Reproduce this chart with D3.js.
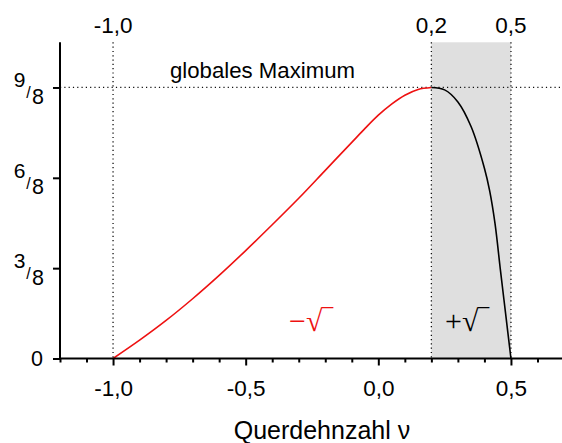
<!DOCTYPE html>
<html><head><meta charset="utf-8">
<script src="https://cdn.jsdelivr.net/npm/d3@7"></script>
<style>html,body{margin:0;padding:0;background:#fff;overflow:hidden}</style>
</head><body>
<svg id="c" width="562" height="443"></svg>
<script>
// ---- data ----
const redNu  = [-1.0, -0.9, -0.8, -0.7, -0.6, -0.5, -0.4, -0.3, -0.2, -0.1, -0.05, 0.0, 0.05, 0.1, 0.15, 0.2];
const redVal = [0, 0.076, 0.158, 0.248, 0.345, 0.448, 0.555, 0.665, 0.781, 0.897, 0.955, 1.010, 1.056, 1.093, 1.117, 1.125];
const blackNu  = [0.2, 0.25, 0.3, 0.35, 0.4, 0.42, 0.44, 0.46, 0.48, 0.5];
const blackVal = [1.125, 1.115, 1.065, 0.962, 0.79, 0.695, 0.56, 0.37, 0.185, 0];
const xMajor = [-1.0, -0.5, 0.0, 0.5];
const xMajorLabels = ["-1,0", "-0,5", "0,0", "0,5"];
const xMinor = [-1.2, -1.1, -0.9, -0.8, -0.7, -0.6, -0.4, -0.3, -0.2, -0.1, 0.1, 0.2, 0.3, 0.4, 0.6];
const topMarks = [-1.0, 0.2, 0.5];
const topLabels = ["-1,0", "0,2", "0,5"];
const yTicks = [0, 3/8, 6/8, 9/8];
const yNum = ["0", "3", "6", "9"];
const yDen = ["", "8", "8", "8"];
const maxVal = 9/8;
const band = [0.2, 0.5];

// ---- scales ----
const svg = d3.select("#c");
const x = d3.scaleLinear().domain([-1.2, 0.7]).range([60, 564]);
const y = d3.scaleLinear().domain([0, 1.3125]).range([358.5, 42.3]);
const font = "Liberation Sans, Arial, sans-serif";
const RED = "#ee1111";

// grey band
svg.append("rect")
  .attr("x", x(band[0])).attr("y", y(1.3125))
  .attr("width", x(band[1]) - x(band[0])).attr("height", y(0) - y(1.3125))
  .attr("fill", "#dfdfdf");

// dotted lines
const dot = "1.2 3.1";
svg.append("line").attr("x1", 60).attr("x2", 562).attr("y1", y(maxVal)).attr("y2", y(maxVal))
  .attr("stroke", "#111").attr("stroke-width", 1.3).attr("stroke-dasharray", dot);
topMarks.forEach(v => {
  svg.append("line").attr("x1", x(v)).attr("x2", x(v)).attr("y1", y(1.3125)).attr("y2", y(0))
    .attr("stroke", "#111").attr("stroke-width", 1.3).attr("stroke-dasharray", dot);
});

// curves
const line = d3.line().x(d => x(d[0])).y(d => y(d[1])).curve(d3.curveCatmullRom.alpha(0.5));
svg.append("path").datum(redNu.map((n, i) => [n, redVal[i]]))
  .attr("d", line).attr("fill", "none").attr("stroke", RED).attr("stroke-width", 1.6);
svg.append("path").datum(blackNu.map((n, i) => [n, blackVal[i]]))
  .attr("d", line).attr("fill", "none").attr("stroke", "#000").attr("stroke-width", 1.6);

// x axis
const gx = svg.append("g").attr("transform", `translate(0,${y(0)})`);
gx.call(d3.axisBottom(x).tickValues(xMinor).tickSize(4).tickFormat(""));
gx.selectAll(".tick line").attr("stroke-width", 2);
const gx2 = svg.append("g").attr("transform", `translate(0,${y(0)})`);
gx2.call(d3.axisBottom(x).tickValues(xMajor).tickSize(7).tickPadding(15)
  .tickFormat((d, i) => xMajorLabels[i]));
gx2.selectAll(".tick line").attr("stroke-width", 2);
gx2.selectAll(".tick text").attr("font-family", font).attr("font-size", 22.5).attr("fill", "#000");
svg.selectAll(".domain").remove();
svg.append("line").attr("x1", 59).attr("x2", 562).attr("y1", y(0)).attr("y2", y(0))
  .attr("stroke", "#000").attr("stroke-width", 2);

// y axis
const gy = svg.append("g").attr("transform", "translate(60,0)");
gy.call(d3.axisLeft(y).tickValues(yTicks).tickSize(7).tickFormat(""));
gy.selectAll(".tick line").attr("stroke-width", 2);
gy.select(".domain").remove();
svg.append("line").attr("x1", 60).attr("x2", 60).attr("y1", y(1.3125)).attr("y2", y(0) + 1)
  .attr("stroke", "#000").attr("stroke-width", 2);

// y labels as fractions
yTicks.forEach((v, i) => {
  const ty = y(v);
  if (yDen[i] === "") {
    svg.append("text").attr("x", 43).attr("y", ty + 7.5).attr("text-anchor", "end")
      .attr("font-family", font).attr("font-size", 21.5).text(yNum[i]);
  } else {
    svg.append("text").attr("x", 25.5).attr("y", ty).attr("text-anchor", "end")
      .attr("font-family", font).attr("font-size", 21).text(yNum[i]);
    svg.append("text").attr("x", 28.5).attr("y", ty + 11).attr("text-anchor", "middle")
      .attr("font-family", font).attr("font-size", 16).text("/");
    svg.append("text").attr("x", 44).attr("y", ty + 16.5).attr("text-anchor", "end")
      .attr("font-family", font).attr("font-size", 21.5).text(yDen[i]);
  }
});

// top labels
topMarks.forEach((v, i) => {
  svg.append("text").attr("x", x(v)).attr("y", 33).attr("text-anchor", "middle")
    .attr("font-family", font).attr("font-size", 22.5).text(topLabels[i]);
});

// annotation
svg.append("text").attr("x", 170).attr("y", 78).attr("font-family", font).attr("font-size", 22.2)
  .text("globales Maximum");

// branch labels
svg.append("text").attr("x", 289).attr("y", 331).attr("font-family", "Liberation Serif, serif")
  .attr("font-size", 30).attr("fill", RED).text("−√‾");
svg.append("text").attr("x", 445).attr("y", 331).attr("font-family", "Liberation Serif, serif")
  .attr("font-size", 30).attr("fill", "#000").text("+√‾");

// axis title
svg.append("text").attr("x", 322).attr("y", 439).attr("text-anchor", "middle")
  .attr("font-family", font).attr("font-size", 25).text("Querdehnzahl ν");
</script>
</body></html>
